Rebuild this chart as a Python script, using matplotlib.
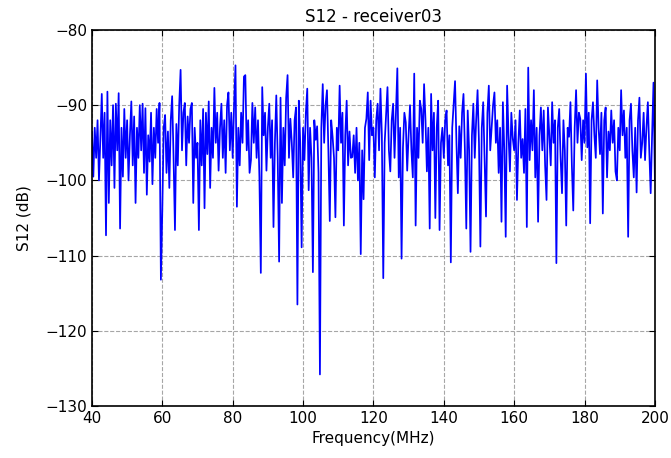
import numpy as np
import matplotlib
matplotlib.use('Agg')
import matplotlib.pyplot as plt

# frequency axis: 40 to 200 MHz in 0.4 MHz steps
freq_start = 40.0
freq_step = 0.4

# S12 magnitude (dB), one row per 10 MHz
s12_40 = [-93.5, -99.5, -93, -97, -92, -100, -94.5, -88.5, -97, -91, -107.3, -88.2, -103,
          -92, -98, -90, -101, -89.8, -96, -88.4, -106.4, -93, -99.5, -90.5, -97]
s12_50 = [-92, -100, -94, -89.5, -98, -91.5, -103, -93, -97, -90, -96, -89.8, -99,
          -90.4, -101.9, -94, -97.5, -91, -100.5, -93, -97, -90.5, -95, -89.7, -113.2]
s12_60 = [-104, -93, -91.3, -99, -93.5, -101, -92, -88.8, -97, -106.6, -92.5, -98, -90,
          -85.3, -96, -91, -89.7, -98, -91.5, -95, -90.5, -89.7, -103, -93, -97]
s12_70 = [-95, -106.6, -92, -98, -90.5, -103.7, -91, -96.5, -89.5, -101, -93, -97, -87.7,
          -95, -91, -98.7, -93, -89.8, -97, -92, -99, -90, -88.3, -96, -91]
s12_80 = [-97, -90, -84.7, -103.5, -93, -98, -91, -95, -86.2, -86, -96, -92, -99,
          -97.3, -89.7, -95, -90.3, -97, -92, -99.6, -112.3, -87.6, -94, -91, -98.7]
s12_90 = [-93, -89.8, -97, -92, -106.2, -95, -88.7, -97, -110.8, -89, -103, -93, -98,
          -89, -86, -97, -91.8, -95, -99.6, -92, -90.3, -116.5, -89.4, -95, -108.9]
s12_100 = [-93, -97.3, -91, -87.8, -101.3, -93, -97, -112.2, -92, -94.6, -92.8, -99, -125.8,
           -93, -87.2, -95, -90, -88, -96, -105.4, -92, -94.2, -97, -104.9, -93]
s12_110 = [-96, -87.4, -95, -91, -106, -94, -89.4, -98, -93.5, -97, -96.9, -94, -99,
           -93, -100, -95, -109.8, -96, -102.5, -93, -91.8, -88.3, -97.3, -89.4, -94]
s12_120 = [-93, -99.6, -92, -89.8, -96, -87.8, -94, -113, -95, -91.3, -87.6, -96, -98.8,
           -92, -89.8, -97, -91, -85.1, -99.6, -93, -110.4, -95.6, -91, -92.3, -98.7]
s12_130 = [-94, -90, -96, -99.6, -85.8, -106, -93, -97, -89.4, -90.5, -95, -87.2, -92,
           -98.8, -93, -106.4, -88.5, -96, -91, -105, -93, -89.4, -106.6, -95, -93]
s12_140 = [-97, -92, -90.7, -98, -94, -110.9, -93, -89.8, -86.8, -95, -101.7, -92.8, -97,
           -91, -88.5, -96, -106.4, -90.7, -96, -109.5, -94, -89.8, -97, -92, -88]
s12_150 = [-95, -108.8, -93, -89.6, -97, -104.8, -91, -87.4, -96, -93, -90, -88.3, -95,
           -92, -99, -93, -105.5, -89.6, -96, -107.5, -87.4, -94, -98.8, -91, -94.4]
s12_160 = [-96, -92, -102.6, -95, -90.7, -97, -94.5, -99, -90.5, -106.2, -85, -97.3, -92,
           -96, -88, -99.6, -93, -105.5, -94, -90.3, -96, -90.7, -98, -102.6, -90.3]
s12_170 = [-94, -98, -89.6, -95, -92, -111, -93, -90.5, -97, -101.7, -92, -96, -106,
           -93, -94.2, -89.6, -98, -104, -93, -88, -95, -91, -91.8, -97.3, -92]
s12_180 = [-95, -85.8, -95.6, -91, -105.7, -92, -89.6, -94, -97, -86.7, -93, -96.5, -91,
           -104.4, -92, -90.3, -99.6, -93.5, -96, -90.7, -95, -92, -98.8, -100, -93]
s12_190 = [-96, -88, -94, -90.7, -97, -93, -107.5, -92, -89.8, -96, -99.6, -93, -101.6,
           -92, -89, -97, -95, -91, -97.3, -93, -89.6, -96, -101.7, -94, -87, -100]

s12 = np.array(s12_40 + s12_50 + s12_60 + s12_70 + s12_80 + s12_90 + s12_100 + s12_110 +
               s12_120 + s12_130 + s12_140 + s12_150 + s12_160 + s12_170 + s12_180 + s12_190)
freq = freq_start + freq_step * np.arange(len(s12))

xticks = [40, 60, 80, 100, 120, 140, 160, 180, 200]
yticks = [-130, -120, -110, -100, -90, -80]

fig = plt.figure(figsize=(6.71, 4.58), dpi=100)
ax = fig.add_axes([0.137, 0.1135, 0.839, 0.821])

ax.plot(freq, s12, color='b', linewidth=1.25)

ax.set_xlim(40, 200)
ax.set_ylim(-130, -80)
ax.set_xticks(xticks)
ax.set_yticks(yticks)
ax.tick_params(direction='in', top=True, right=True, length=4, labelsize=11)
ax.grid(True, linestyle='--', color='0.65', linewidth=0.8)
for sp in ax.spines.values():
    sp.set_linewidth(1.2)

ax.set_title('S12 - receiver03', fontsize=12)
ax.set_xlabel('Frequency(MHz)', fontsize=11)
ax.set_ylabel('S12 (dB)', fontsize=11, labelpad=10)

fig.savefig('out.png', dpi=100, facecolor='white')
